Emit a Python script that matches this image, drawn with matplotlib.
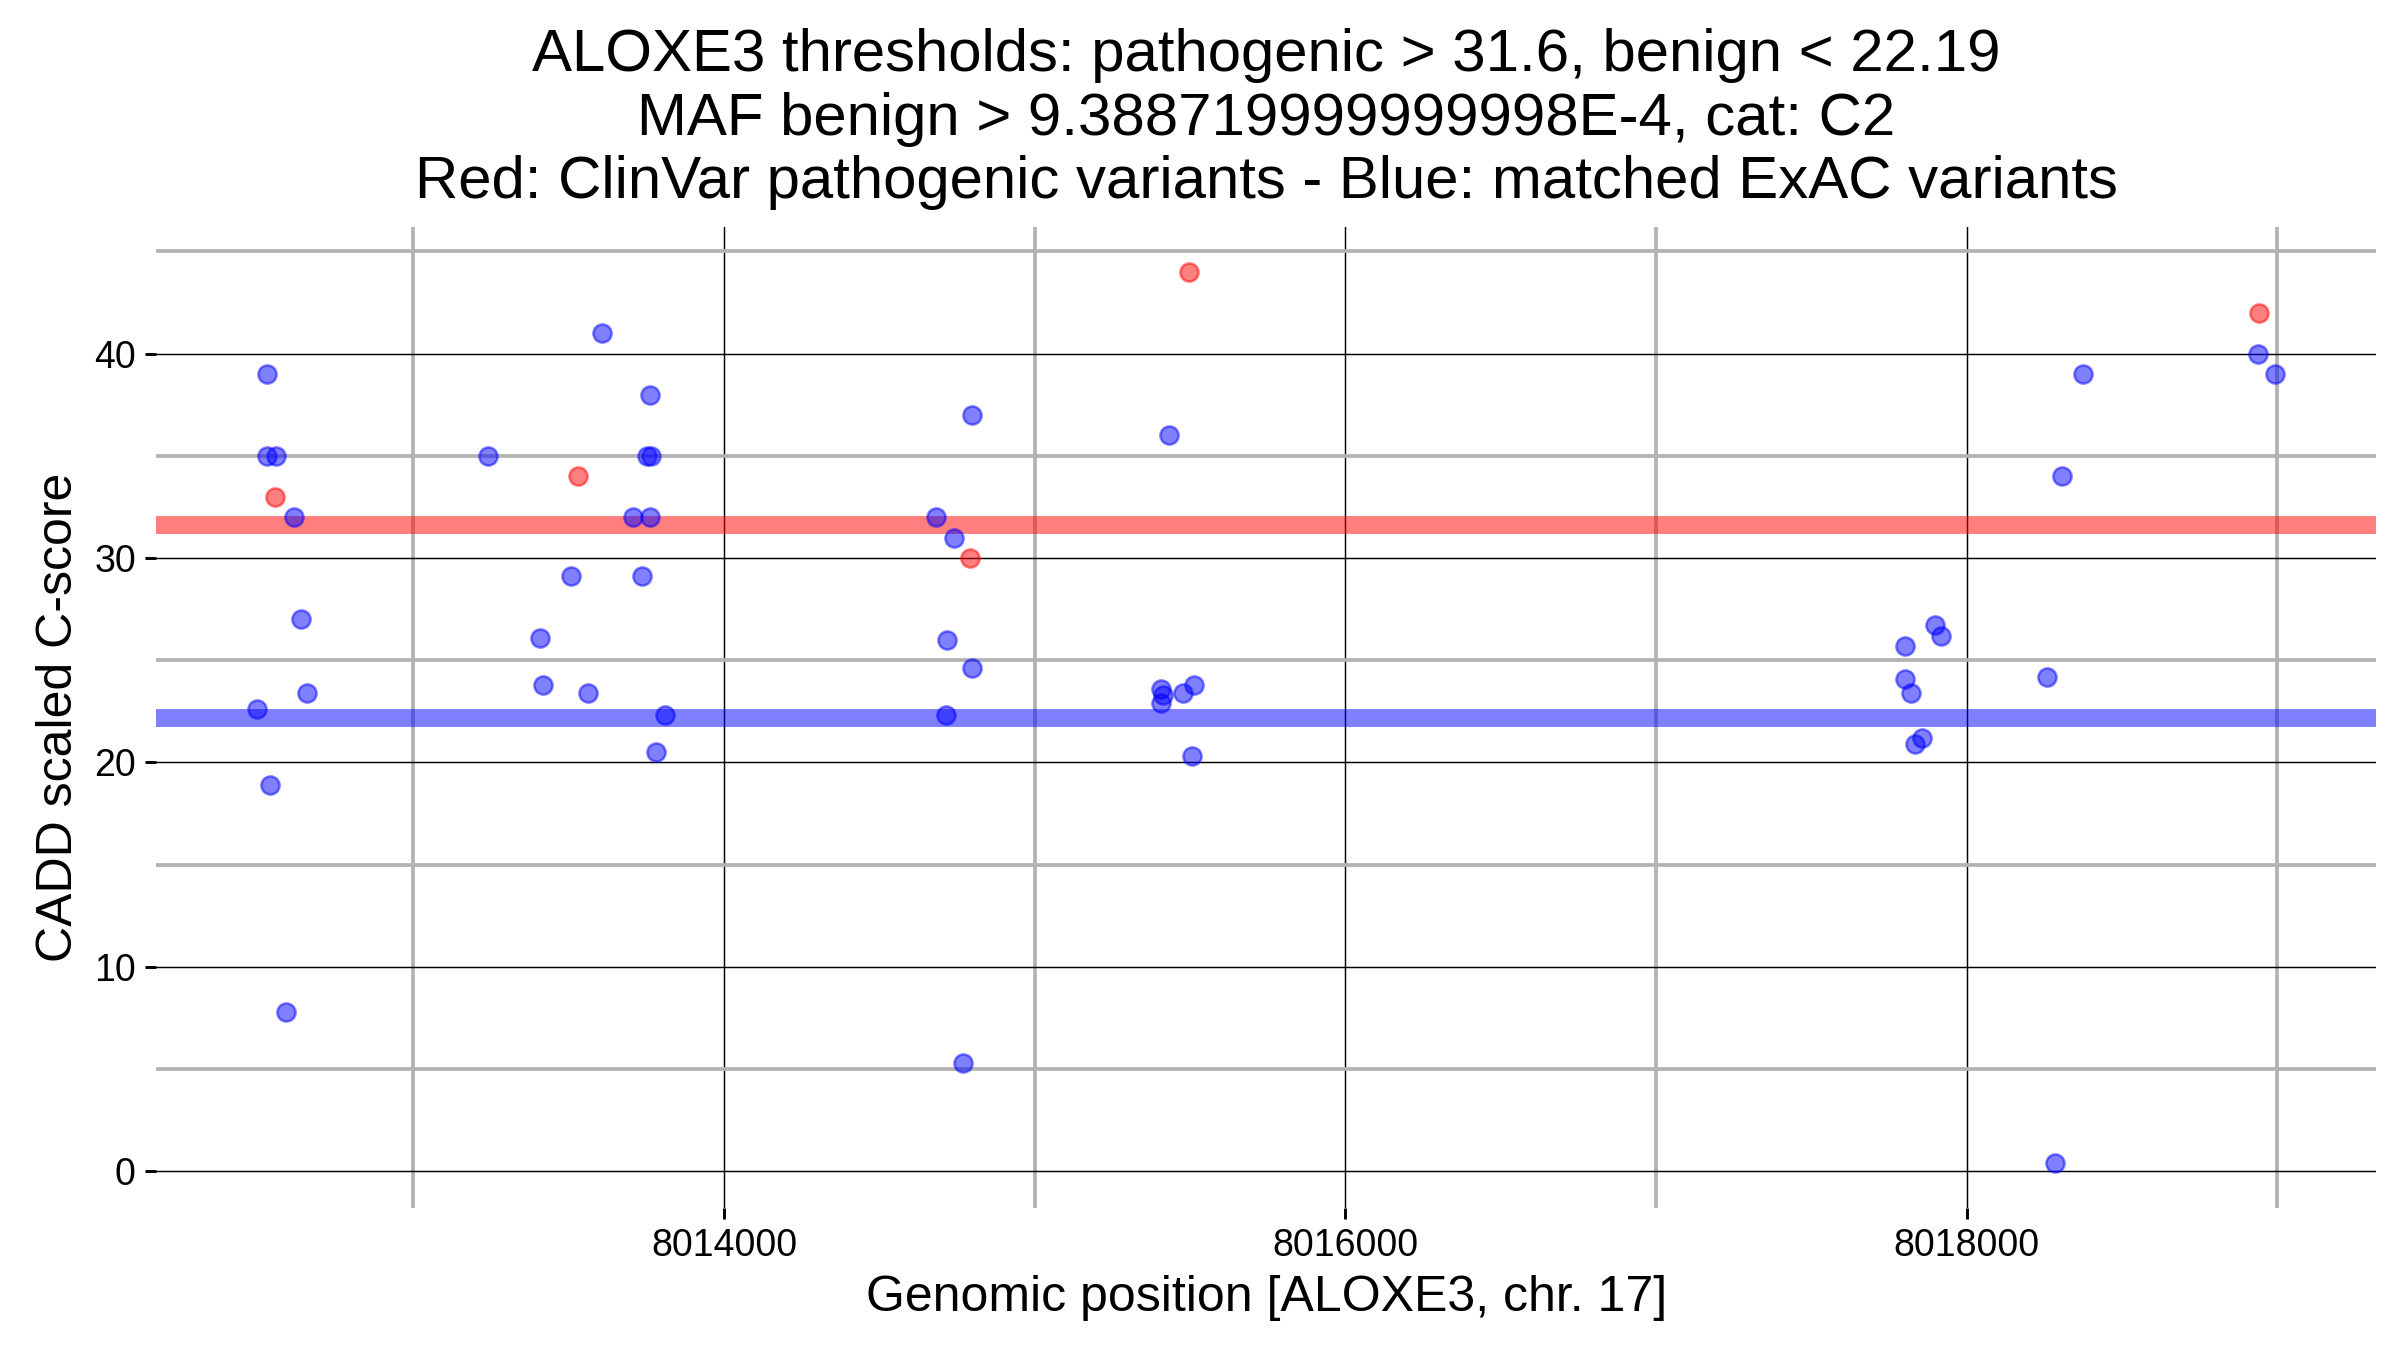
import matplotlib.pyplot as plt
from matplotlib.ticker import MultipleLocator

plt.rcParams['font.family'] = ['Liberation Sans', 'DejaVu Sans']

gene = 'ALOXE3'
thr_patho = 31.6
thr_benign = 22.19

# ClinVar pathogenic variants (red)
clinvar_pos = [8012556, 8013530, 8014791, 8015496, 8018941]
clinvar_cadd = [33.0, 34.0, 30.0, 44.0, 42.0]

# matched ExAC variants (blue)
exac_pos = [8012529, 8012529, 8012558, 8012617, 8012638, 8012656, 8012498,
            8012538, 8012590,
            8013608, 8013240, 8013753, 8013765, 8013763, 8013707, 8013763,
            8013509, 8013735, 8013409, 8013417, 8013563, 8013811, 8013780,
            8014798, 8015431, 8014684, 8014739, 8014719, 8014797, 8014713,
            8015408, 8015414, 8015408, 8015477, 8015514, 8015508, 8014769,
            8018939, 8018993, 8018374, 8018308, 8017899, 8017918, 8017803,
            8017801, 8017822, 8018258, 8017855, 8017835, 8018285]
exac_cadd = [39.0, 35.0, 35.0, 32.0, 27.0, 23.4, 22.6,
             18.9, 7.8,
             41.0, 35.0, 35.0, 35.0, 38.0, 32.0, 32.0,
             29.1, 29.1, 26.1, 23.8, 23.4, 22.3, 20.5,
             37.0, 36.0, 32.0, 31.0, 26.0, 24.6, 22.3,
             23.6, 23.3, 22.9, 23.4, 23.8, 20.3, 5.3,
             40.0, 39.0, 39.0, 34.0, 26.7, 26.2, 25.7,
             24.1, 23.4, 24.2, 21.2, 20.9, 0.4]

fig = plt.figure(figsize=(8, 4.5), dpi=300)
ax = fig.add_axes([0.0652, 0.1055, 0.9248, 0.7261])

ax.axhline(thr_patho, color='red', alpha=0.5, lw=4.3, zorder=2)
ax.axhline(thr_benign, color='blue', alpha=0.5, lw=4.3, zorder=2)

ax.scatter(exac_pos, exac_cadd, s=19, color='blue', alpha=0.5,
           edgecolors='blue', linewidths=0.6, zorder=3)
ax.scatter(clinvar_pos, clinvar_cadd, s=19, color='red', alpha=0.5,
           edgecolors='red', linewidths=0.6, zorder=3)

ax.set_xlim(8012173, 8019318)
ax.set_ylim(-1.78, 46.18)

ax.xaxis.set_major_locator(MultipleLocator(2000))
ax.xaxis.set_minor_locator(MultipleLocator(1000))
ax.yaxis.set_major_locator(MultipleLocator(10))
ax.yaxis.set_minor_locator(MultipleLocator(5))
ax.ticklabel_format(useOffset=False, style='plain', axis='x')

ax.grid(which='major', color='black', lw=0.35, zorder=1)
ax.grid(which='minor', color='#b3b3b3', lw=0.9, zorder=0)
ax.set_axisbelow(True)

for s in ax.spines.values():
    s.set_visible(False)
ax.tick_params(which='major', length=2.75, width=0.7, color='black',
               labelsize=9, pad=2.2)
ax.tick_params(which='minor', length=0)

ax.set_xlabel(f'Genomic position [{gene}, chr. 17]', fontsize=12, labelpad=2.5)
ax.set_ylabel('CADD scaled C-score', fontsize=12, labelpad=3)
ax.set_title(f'{gene} thresholds: pathogenic > {thr_patho}, benign < {thr_benign}\n'
             'MAF benign > 9.388719999999998E-4, cat: C2\n'
             'Red: ClinVar pathogenic variants - Blue: matched ExAC variants',
             fontsize=14.4, pad=7, linespacing=1.2)

fig.savefig('out.png', dpi=300)
